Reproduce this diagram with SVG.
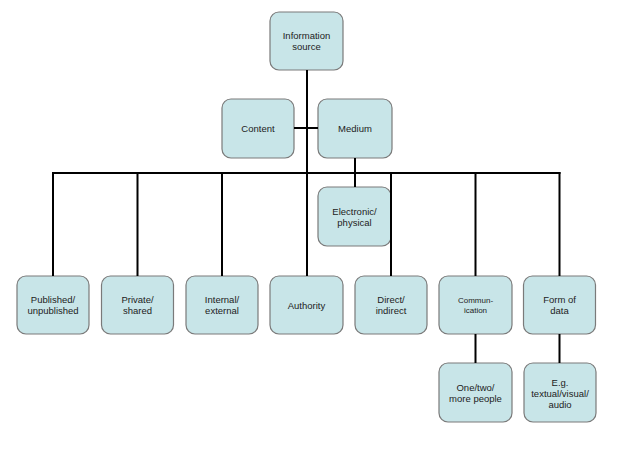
<svg xmlns="http://www.w3.org/2000/svg" width="623" height="468" viewBox="0 0 623 468">
<style>
.box{fill:#c8e5e8;stroke:#7a7a7a;stroke-width:1.2}
.t{font-family:"Liberation Sans",Arial,sans-serif;font-size:9.5px;fill:#222;text-anchor:middle}
.s{font-size:8px}
.c{stroke:#000;stroke-width:2;fill:none}
</style>
<rect width="623" height="468" fill="#fff"/>
<g id="n-source"><rect class="box" x="270" y="12" width="73" height="58" rx="9"/><text class="t" x="306.5" y="39">Information</text><text class="t" x="306.5" y="50">source</text></g>
<g id="n-content"><rect class="box" x="222" y="99" width="72" height="59" rx="9"/><text class="t" x="258" y="132">Content</text></g>
<g id="n-medium"><rect class="box" x="318" y="99" width="74" height="59" rx="9"/><text class="t" x="355" y="132">Medium</text></g>
<g id="n-electronic"><rect class="box" x="318" y="187" width="73" height="59" rx="9"/><text class="t" x="354.5" y="214.5">Electronic/</text><text class="t" x="354.5" y="225.5">physical</text></g>
<g id="n-published"><rect class="box" x="17" y="276" width="72" height="58" rx="9"/><text class="t" x="53" y="303">Published/</text><text class="t" x="53" y="314">unpublished</text></g>
<g id="n-private"><rect class="box" x="101.5" y="276" width="72" height="58" rx="9"/><text class="t" x="137.5" y="303">Private/</text><text class="t" x="137.5" y="314">shared</text></g>
<g id="n-internal"><rect class="box" x="186" y="276" width="72" height="58" rx="9"/><text class="t" x="222" y="303">Internal/</text><text class="t" x="222" y="314">external</text></g>
<g id="n-authority"><rect class="box" x="270" y="276" width="73" height="58" rx="9"/><text class="t" x="306.5" y="308.5">Authority</text></g>
<g id="n-direct"><rect class="box" x="355" y="276" width="72" height="58" rx="9"/><text class="t" x="391" y="303">Direct/</text><text class="t" x="391" y="314">indirect</text></g>
<g id="n-communication"><rect class="box" x="439" y="276" width="73" height="58" rx="9"/><text class="t s" x="475.5" y="303">Commun-</text><text class="t s" x="475.5" y="313">ication</text></g>
<g id="n-form"><rect class="box" x="523.5" y="276" width="72" height="58" rx="9"/><text class="t" x="559.5" y="303">Form of</text><text class="t" x="559.5" y="314">data</text></g>
<g id="n-people"><rect class="box" x="439" y="363" width="73" height="59" rx="9"/><text class="t" x="475.5" y="391">One/two/</text><text class="t" x="475.5" y="402">more people</text></g>
<g id="n-textual"><rect class="box" x="524" y="363" width="72" height="59" rx="9"/><text class="t" x="560" y="386">E.g.</text><text class="t" x="560" y="397">textual/visual/</text><text class="t" x="560" y="408">audio</text></g>
<g id="connectors" class="c">
<path d="M307 70V276"/>
<path d="M294 128H318"/>
<path d="M355 158V187"/>
<path d="M53 173H560.5"/>
<path d="M53 172V276M137.5 173V276M222 173V276M391 173V276M475.5 173V276M559.5 172V276"/>
<path d="M475.5 334V363M559.5 334V363"/>
</g>
</svg>
